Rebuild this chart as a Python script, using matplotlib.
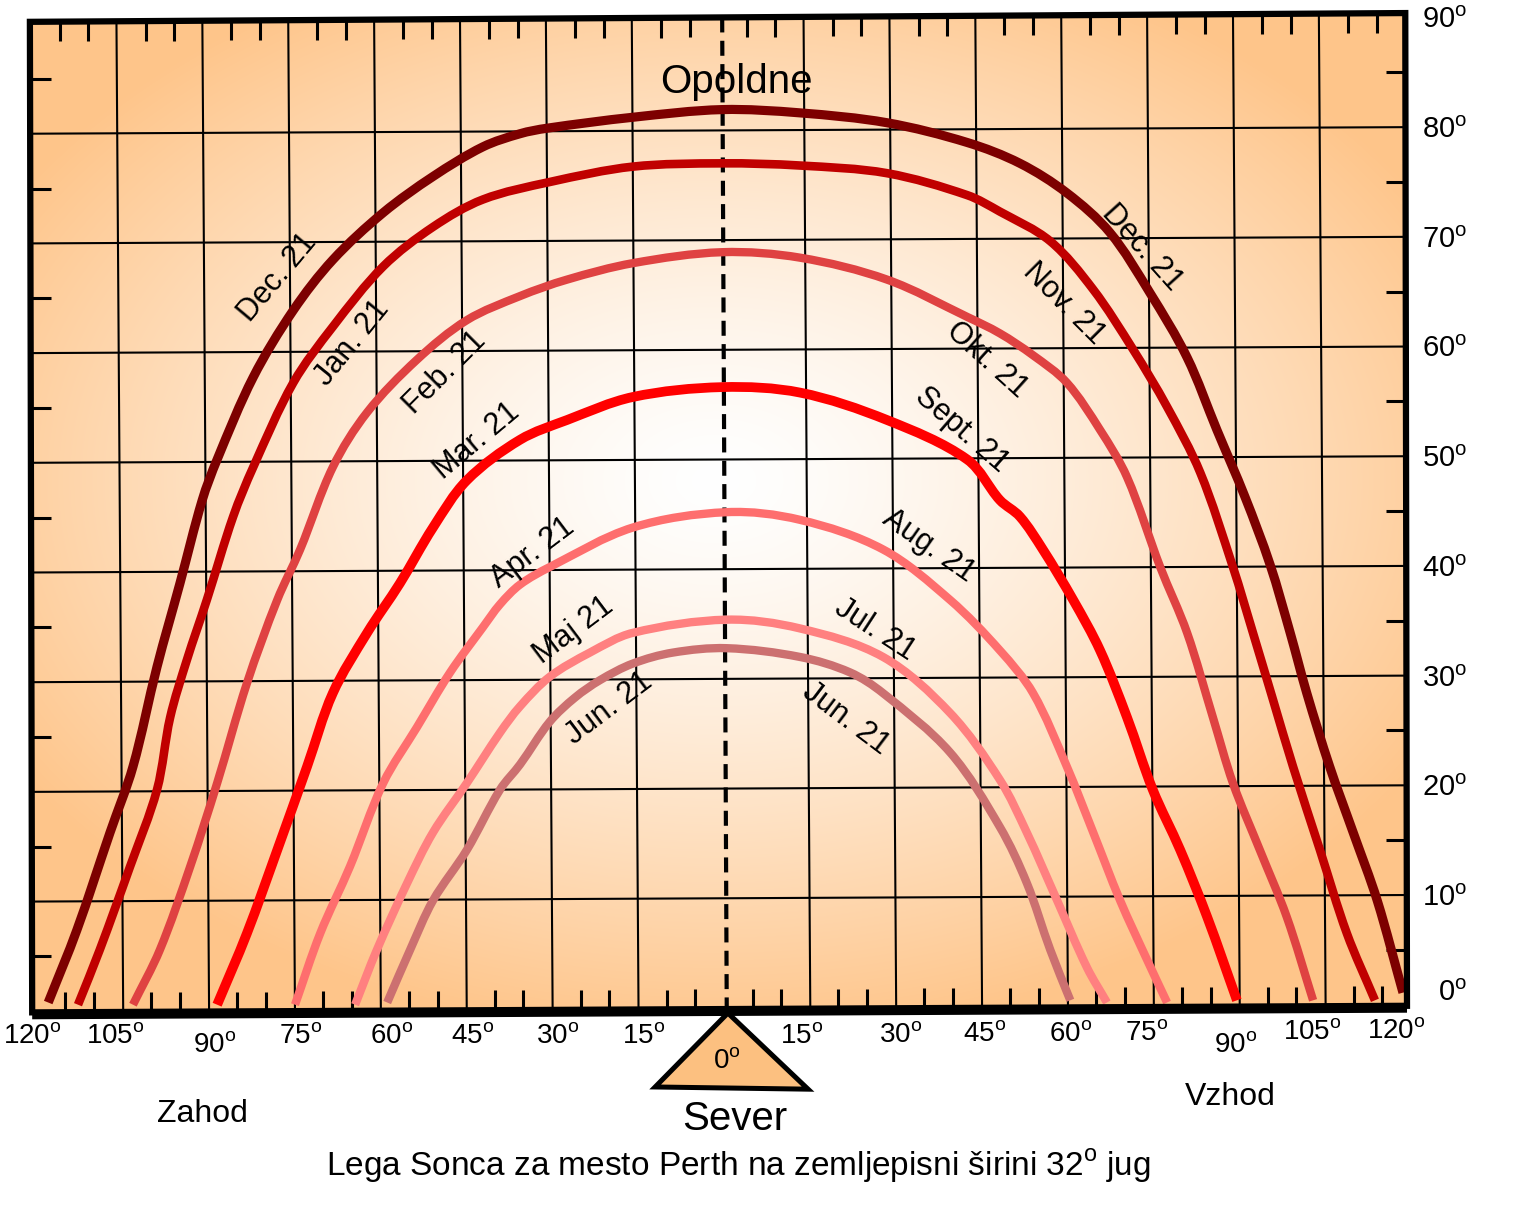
import numpy as np
import matplotlib
matplotlib.use('Agg')
import matplotlib.pyplot as plt
from matplotlib.patches import Polygon, PathPatch
from matplotlib.path import Path

plt.rcParams['font.family'] = ['Liberation Sans', 'DejaVu Sans']

# ---------------- data: sun path curves (azimuth deg, altitude deg) ----------------
dec_az = [-117.5, -112.5, -106.7, -102.7, -98.5, -94.5, -90.6, -88.0, -81.7, -74.7, -67.8, -59.0,
          -50.3, -41.6, -35.1, -30.4, -15.4, 0.2, 13.8, 29.0, 43.0, 52.2, 60.4, 67.9, 74.9, 81.4,
          86.6, 91.5, 95.9, 99.4, 102.3, 106.3, 110.4, 114.6, 119.1]
dec_alt = [0.2, 6.8, 15.7, 21.7, 30.8, 38.4, 46.0, 49.7, 57.2, 63.3, 67.9, 72.2, 75.5, 78.2, 79.4,
           79.9, 80.9, 81.6, 81.3, 80.4, 78.6, 76.7, 74.0, 70.4, 64.9, 59.0, 52.4, 46.3, 40.1,
           33.9, 28.4, 21.7, 15.7, 9.5, 1.1]

jan_az = [-112.3, -108.5, -103.2, -98.5, -96.2, -93.3, -89.8, -85.2, -81.7, -74.7, -67.8, -59.0,
          -50.3, -41.6, -29.9, -15.4, 0.2, 13.8, 29.0, 43.0, 48.7, 57.5, 65.0, 72.0, 77.9, 83.7,
          89.4, 92.9, 96.4, 99.9, 104.6, 109.3, 114.2]
jan_alt = [0.0, 5.0, 12.6, 19.6, 26.2, 31.4, 36.9, 44.5, 49.0, 56.7, 61.8, 67.3, 70.9, 73.4, 75.0,
           76.4, 76.7, 76.5, 75.8, 73.8, 72.3, 69.6, 65.2, 59.7, 54.5, 48.5, 39.9, 33.9, 27.8,
           21.7, 14.1, 6.5, 0.4]

feb_az = [-102.7, -98.0, -92.7, -88.0, -82.8, -77.5, -73.5, -67.8, -61.8, -53.1, -44.4, -35.1,
          -26.9, -15.4, 0.2, 13.8, 29.0, 43.0, 48.7, 54.5, 60.4, 66.2, 70.9, 76.7, 81.4, 85.9,
          89.4, 94.1, 98.8, 103.4]
feb_alt = [0.0, 5.0, 12.6, 20.2, 29.3, 36.9, 41.5, 49.0, 54.0, 58.8, 62.4, 64.6, 66.1, 67.6, 68.6,
           68.1, 66.1, 62.7, 61.2, 59.2, 56.7, 52.4, 48.1, 39.9, 33.9, 26.2, 20.2, 14.1, 8.0,
           0.4]

mar_az = [-88.0, -82.8, -77.5, -72.3, -67.8, -61.8, -56.1, -50.3, -44.4, -35.1, -26.9, -15.4, 0.2,
          13.8, 29.0, 43.0, 48.7, 52.2, 56.2, 61.5, 66.2, 70.9, 75.4, 80.2, 84.9, 90.1]
mar_alt = [0.0, 6.5, 14.1, 21.7, 28.4, 33.9, 38.4, 43.5, 47.8, 51.5, 53.3, 55.4, 56.3, 55.8, 53.3,
           49.7, 46.0, 44.5, 41.5, 36.9, 32.3, 26.2, 19.6, 14.1, 8.0, 0.4]

apr_az = [-74.4, -70.0, -64.8, -59.0, -53.1, -47.3, -41.6, -38.6, -35.1, -29.9, -15.4, 1.0, 13.8,
          28.3, 40.0, 48.7, 54.5, 60.4, 65.0, 69.7, 74.4, 77.9]
apr_alt = [0.0, 6.5, 12.6, 20.2, 25.3, 30.3, 34.4, 36.5, 38.3, 39.9, 43.5, 44.9, 44.2, 41.5, 36.9,
           32.3, 28.4, 21.7, 15.7, 9.5, 4.1, 0.2]

maj_az = [-63.9, -60.1, -54.8, -50.3, -44.4, -38.6, -35.1, -29.9, -22.9, -15.4, 1.0, 13.8, 28.3,
          40.0, 48.7, 53.4, 58.7, 63.9, 67.4]
maj_alt = [0.0, 5.0, 11.1, 15.7, 20.2, 24.8, 27.2, 29.9, 32.1, 33.9, 35.1, 34.3, 31.7, 26.6, 20.5,
           15.7, 9.5, 3.4, 0.2]

jun_az = [-58.3, -54.3, -50.3, -44.4, -38.6, -35.1, -29.9, -25.5, -21.1, -15.4, -8.4, 1.0, 13.8,
          22.5, 28.3, 40.0, 48.7, 53.4, 57.5, 61.0]
jun_alt = [0.2, 5.0, 9.5, 14.1, 19.6, 21.9, 25.8, 28.0, 29.6, 31.1, 32.1, 32.5, 31.7, 30.3, 28.4,
           23.0, 16.2, 11.1, 5.0, 0.4]

curves = [
    (dec_az, dec_alt, '#7d0000', 6.6),
    (jan_az, jan_alt, '#c00000', 6.2),
    (feb_az, feb_alt, '#df4242', 6.0),
    (mar_az, mar_alt, '#ff0000', 7.0),
    (apr_az, apr_alt, '#fe6e6e', 6.0),
    (maj_az, maj_alt, '#ff8080', 6.0),
    (jun_az, jun_alt, '#cc7070', 6.0),
]

# month labels: text, azimuth, altitude, rotation
month_labels = ['Dec. 21', 'Jan. 21', 'Feb. 21', 'Mar. 21', 'Apr. 21', 'Maj 21', 'Jun. 21',
                'Dec. 21', 'Nov. 21', 'Okt. 21', 'Sept. 21', 'Aug. 21', 'Jul. 21', 'Jun. 21']
label_az = [-77.4, -64.4, -48.2, -42.6, -33.0, -25.8, -19.6,
            73.5, 59.9, 46.5, 42.1, 36.3, 26.9, 21.8]
label_alt = [66.3, 60.3, 57.6, 51.4, 41.2, 34.1, 27.0,
             69.0, 63.9, 58.8, 52.4, 41.8, 34.2, 26.1]
label_rot = [50, 51, 45, 40, 37, 37, 37,
             -48, -45, -42, -41, -35, -33, -37]

az_ticks = [-120, -105, -90, -75, -60, -45, -30, -15, 15, 30, 45, 60, 75, 90, 105, 120]
alt_ticks = [0, 10, 20, 30, 40, 50, 60, 70, 80, 90]

title = 'Lega Sonca za mesto Perth na zemljepisni širini 32$^{\\mathregular{o}}$ jug'

# ---------------- layout / style ----------------
az_label_shift = [-0.3, -0.8, 1.6, 1.5, 2.5, 1.7, 1.5, 1.4, -0.9, 1.4, 1.1, 1.1, -0.6, -0.2,
                  -1.8, -2.1]
SX, SY = 5.726, 10.97   # pixels per degree (for smooth drawing in screen-like space)

fig = plt.figure(figsize=(15.34, 12.14), dpi=100)
ax = fig.add_axes([0, 0, 1, 1])
X0, X1, Y0, Y1 = -125.92, 141.98, -19.08, 91.59
ax.axis('off')

DEG = r'$^{\mathregular{o}}$'

# frame corners (slightly skewed, as in the drawing)
TL, TR, BR, BL = (-120.7, 89.6), (119.5, 90.4), (119.8, -0.1), (-120.3, -0.7)
clip_poly = Polygon([TL, TR, BR, BL], closed=True, facecolor='none', edgecolor='none',
                    transform=ax.transData)
ax.add_patch(clip_poly)

# radial gradient background
H, W = 607, 767
yy, xx = np.mgrid[0:H, 0:W]
xx = xx * 2.0
yy = yy * 2.0
t = np.sqrt(((xx - 715) / 820.0) ** 2 + ((yy - 480) / 560.0) ** 2).clip(0, 1)
f = t ** 1.35
white = np.array([1.0, 1.0, 1.0])
orange = np.array([254, 197, 138]) / 255.0
img = white[None, None, :] * (1 - f)[..., None] + orange[None, None, :] * f[..., None]
im = ax.imshow(img, extent=(X0, X1, Y0, Y1), origin='upper', aspect='auto', zorder=0,
               interpolation='bilinear')
im.set_clip_path(clip_poly)


def top_y(x):
    return TL[1] + (x - TL[0]) / (TR[0] - TL[0]) * (TR[1] - TL[1])


def bot_y(x):
    return BL[1] + (x - BL[0]) / (BR[0] - BL[0]) * (BR[1] - BL[1])


def smooth_path(xs, ys):
    """Smooth cubic-Bezier path passing through every given point."""
    P = np.column_stack([np.asarray(xs) * SX, np.asarray(ys) * SY])
    n = len(P)
    verts = [P[0]]
    codes = [Path.MOVETO]

    def tangent(i):
        a = P[max(i - 1, 0)]
        b = P[min(i + 1, n - 1)]
        d = b - a
        return d / np.hypot(*d)

    for i in range(n - 1):
        p1, p2 = P[i], P[i + 1]
        seg = np.hypot(*(p2 - p1))
        c1 = p1 + tangent(i) * seg / 3.0
        c2 = p2 - tangent(i + 1) * seg / 3.0
        verts += [c1, c2, p2]
        codes += [Path.CURVE4] * 3
    V = np.array(verts)
    V[:, 0] /= SX
    V[:, 1] /= SY
    return Path(V, codes)


# grid lines
for a in range(10, 90, 10):
    ln, = ax.plot([-121, 120], [a - 0.6, a], color='black', lw=1.5, zorder=1)
    ln.set_clip_path(clip_poly)
for g in range(-105, 106, 15):
    if g == 0:
        continue
    ln, = ax.plot([g - 0.6, g + 0.6], [91, -1], color='black', lw=1.5, zorder=1)
    ln.set_clip_path(clip_poly)

# minor ticks (every 5 degrees)
for v in range(-115, 120, 5):
    if v % 15 == 0:
        continue
    xt = v - 0.5
    ax.plot([xt, xt], [top_y(xt), top_y(xt) - 1.8], color='black', lw=2.2, zorder=2,
            solid_capstyle='butt')
    xb = v + 0.5
    ax.plot([xb, xb], [bot_y(xb), bot_y(xb) + 1.8], color='black', lw=2.2, zorder=2,
            solid_capstyle='butt')
for a in range(5, 90, 10):
    ax.plot([-120.5, -117.0], [a - 0.6, a - 0.6], color='black', lw=2.2, zorder=2,
            solid_capstyle='butt')
    ax.plot([119.7, 116.2], [a, a], color='black', lw=2.2, zorder=2, solid_capstyle='butt')

# noon line
ax.plot([0.2, 1.0], [90.0, -0.5], color='black', lw=3, linestyle=(0, (3.6, 2.0)), zorder=2)

# sun paths
for az, alt, col, lw in curves:
    ax.add_patch(PathPatch(smooth_path(az, alt), fill=False, edgecolor=col, lw=lw,
                           capstyle='butt', joinstyle='round', zorder=3))

# month labels
for txt, x, y, r in zip(month_labels, label_az, label_alt, label_rot):
    ax.text(x, y, txt, fontsize=22, rotation=r, rotation_mode='anchor', ha='center',
            va='center', zorder=4)

# frame
ax.add_patch(Polygon([TL, TR, BR, BL], closed=True, fill=False, edgecolor='black', lw=4.5,
                     joinstyle='miter', zorder=5))
ax.plot([BL[0], BR[0]], [BL[1] - 0.25, BR[1] - 0.25], color='black', lw=6, zorder=5,
        solid_capstyle='butt')

# bottom azimuth labels
for v, s in zip(az_ticks, az_label_shift):
    y = -4.4 if abs(v) == 90 else -3.6 + max(v, 0) * 0.004
    ax.text(v + s, y, f'{abs(v)}' + DEG, fontsize=20, ha='center', va='baseline', zorder=6)

# right altitude labels
for a in alt_ticks:
    y = a - 1.0 if a > 0 else 0.3
    ax.text(130.3, y, f'{a}' + DEG, fontsize=21, ha='right', va='baseline', zorder=6)

# north triangle
ax.add_patch(Polygon([(1.2, -0.76), (-11.5, -7.5), (15.2, -7.7)], closed=True,
                     facecolor='#fcc080', edgecolor='black', lw=3.6, joinstyle='miter',
                     zorder=7))
ax.text(1.0, -5.9, '0' + DEG, fontsize=20, ha='center', va='baseline', zorder=8)

# annotations
ax.text(2.6, 83.1, 'Opoldne', fontsize=29, ha='center', va='baseline', zorder=6)
ax.text(2.4, -11.4, 'Sever', fontsize=29, ha='center', va='baseline', zorder=6)
ax.text(-90.6, -10.7, 'Zahod', fontsize=23, ha='center', va='baseline', zorder=6)
ax.text(88.9, -9.15, 'Vzhod', fontsize=23, ha='center', va='baseline', zorder=6)
ax.text(3.0, -15.6, title, fontsize=24, ha='center', va='baseline', zorder=6)

ax.set_xlim(X0, X1)
ax.set_ylim(Y0, Y1)

fig.savefig('out.png', dpi=100, facecolor='white')
